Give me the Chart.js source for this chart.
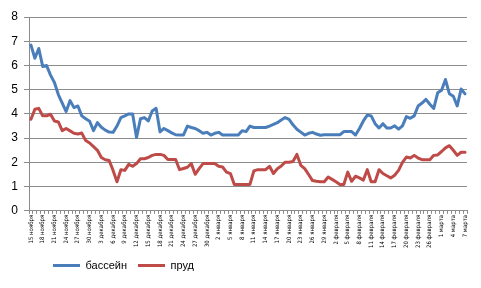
<!DOCTYPE html>
<html>
<head>
<meta charset="utf-8">
<script src="https://cdn.jsdelivr.net/npm/chart.js@4/dist/chart.umd.min.js"></script>
<style>
html,body{margin:0;padding:0;background:#fff;}
#wrap{width:481px;height:288px;}
</style>
</head>
<body>
<div id="wrap"><canvas id="c" width="481" height="288"></canvas></div>
<script>
const tickLabels = ["15 ноября","18 ноября","21 ноября","24 ноября","27 ноября","30 ноября",
"3 декабря","6 декабря","9 декабря","12 декабря","15 декабря","18 декабря","21 декабря","24 декабря","27 декабря","30 декабря",
"2 января","5 января","8 января","11 января","14 января","17 января","20 января","23 января","26 января","29 января",
"2 февраля","5 февраля","8 февраля","11 февраля","14 февраля","17 февраля","20 февраля","23 февраля","26 февраля",
"1 марта","4 марта","7 марта"];

const seriesNames = ["бассейн","пруд"];

const pool = [6.84,6.3,6.7,5.96,6.0,5.6,5.3,4.8,4.45,4.1,
4.55,4.26,4.33,3.92,3.8,3.7,3.31,3.64,3.45,3.33,
3.25,3.24,3.5,3.85,3.92,4.0,4.0,3.03,3.8,3.85,
3.71,4.12,4.23,3.26,3.4,3.31,3.22,3.14,3.13,3.13,
3.5,3.44,3.4,3.31,3.2,3.24,3.13,3.2,3.24,3.13,
3.13,3.13,3.13,3.13,3.31,3.27,3.5,3.44,3.44,3.44,
3.44,3.5,3.57,3.64,3.75,3.85,3.78,3.55,3.37,3.25,
3.13,3.2,3.24,3.17,3.12,3.14,3.14,3.14,3.14,3.14,
3.27,3.27,3.27,3.13,3.4,3.71,3.95,3.92,3.6,3.42,
3.6,3.42,3.42,3.51,3.37,3.51,3.89,3.82,3.92,4.33,
4.45,4.6,4.4,4.23,4.87,4.98,5.42,4.83,4.73,4.33,
5.03,4.83];

const pond = [3.78,4.19,4.23,3.92,3.92,3.99,3.71,3.67,3.31,3.4,
3.3,3.2,3.17,3.21,2.9,2.8,2.65,2.5,2.2,2.11,
2.08,1.67,1.2,1.7,1.67,1.92,1.84,1.95,2.15,2.15,
2.2,2.29,2.33,2.33,2.29,2.12,2.12,2.12,1.7,1.75,
1.8,1.95,1.51,1.74,1.95,1.95,1.95,1.95,1.84,1.81,
1.6,1.54,1.09,1.09,1.09,1.09,1.09,1.65,1.7,1.7,
1.7,1.84,1.54,1.74,1.85,2.01,2.01,2.04,2.33,1.88,
1.74,1.5,1.25,1.22,1.2,1.2,1.4,1.3,1.2,1.09,
1.09,1.6,1.22,1.43,1.36,1.27,1.7,1.2,1.2,1.7,
1.54,1.45,1.36,1.47,1.67,2.0,2.22,2.18,2.29,2.18,
2.11,2.11,2.11,2.29,2.31,2.45,2.6,2.69,2.5,2.29,
2.42,2.42];

const labelEvery = 3;
const categories = pool.map((v, i) => (i % labelEvery === 0 ? (tickLabels[i / labelEvery] || "") : ""));

const legendShift = {
  id: 'legendShift',
  afterLayout(chart) {
    chart.legend.left = 42;
  }
};

const gridColor = '#8c8c8c';
new Chart(document.getElementById('c'), {
  type: 'line',
  data: {
    labels: categories,
    datasets: [
      {label: seriesNames[0], data: pool, borderColor: '#4A7EBB', backgroundColor: '#4A7EBB', borderWidth: 3, pointRadius: 0, tension: 0, borderJoinStyle: 'round', borderCapStyle: 'round'},
      {label: seriesNames[1], data: pond, borderColor: '#BE4B48', backgroundColor: '#BE4B48', borderWidth: 3, pointRadius: 0, tension: 0, borderJoinStyle: 'round', borderCapStyle: 'round'}
    ]
  },
  options: {
    responsive: false,
    animation: false,
    devicePixelRatio: 1,
    layout: {padding: {left: 0, right: 14, top: 17, bottom: 7}},
    plugins: {
      legend: {
        position: 'bottom',
        align: 'start',
        labels: {
          usePointStyle: true,
          pointStyle: 'line',
          pointStyleWidth: 27,
          boxHeight: 11,
          color: '#000',
          padding: 11,
          font: {family: 'Liberation Sans, Arial, sans-serif', size: 11}
        }
      },
      tooltip: {enabled: false}
    },
    scales: {
      x: {
        offset: true,
        grid: {display: true, drawOnChartArea: false, drawTicks: true, tickLength: 3, color: gridColor, offset: true},
        border: {color: gridColor},
        ticks: {autoSkip: false, maxRotation: 90, minRotation: 90, padding: 1, color: '#000',
          font: {family: '"Liberation Sans Narrow", "DejaVu Sans Condensed", Arial, sans-serif', size: 6}}
      },
      y: {
        min: 0, max: 8,
        afterFit(scale) { scale.width = 29; },
        grid: {color: gridColor, tickLength: 5, lineWidth: 1},
        border: {color: gridColor},
        ticks: {stepSize: 1, padding: 6, color: '#000', font: {family: 'Liberation Sans, Arial, sans-serif', size: 12}}
      }
    }
  },
  plugins: [legendShift]
});
</script>
</body>
</html>
